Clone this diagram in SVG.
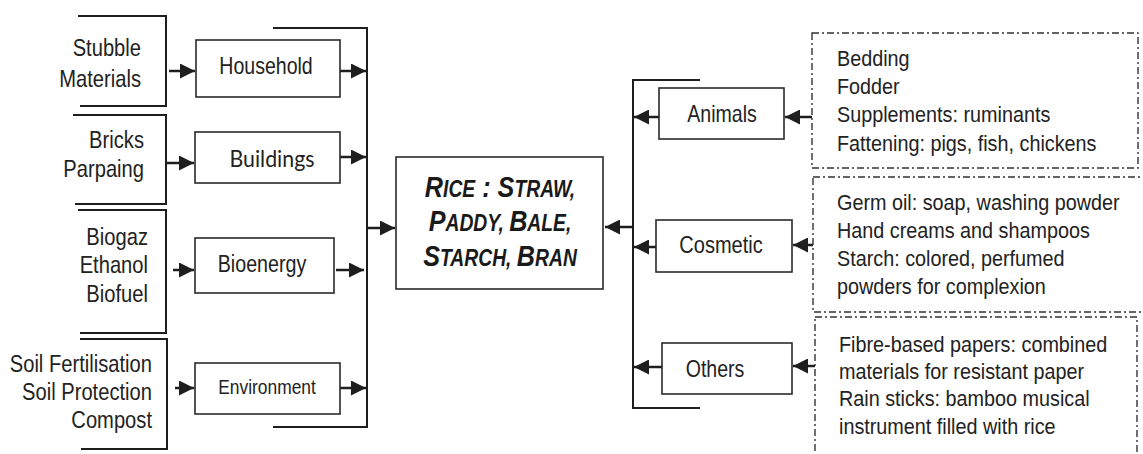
<svg xmlns="http://www.w3.org/2000/svg" width="1143" height="454" viewBox="0 0 1143 454">
<defs>
<marker id="ah" markerUnits="userSpaceOnUse" markerWidth="16" markerHeight="15" refX="15" refY="7.5" orient="auto">
<path d="M0,0 L15,7.5 L0,15 z" fill="#1e1e1e"/>
</marker>
<style>
.ln{stroke:#1e1e1e;stroke-width:2;fill:none}
.ar{stroke:#1e1e1e;stroke-width:2.5;fill:none;marker-end:url(#ah)}
.bx{stroke:#2a2a2a;stroke-width:1.6;fill:#fff}
.db{stroke:#333;stroke-width:1.4;fill:none;stroke-dasharray:7 3 2 3}
.t{font-family:"Liberation Sans",Arial,sans-serif;fill:#222}
.nl{font-size:24px;text-anchor:end}
.nb{font-size:23px;text-anchor:middle}
.rt{font-size:22px}
.ct{font-family:"Liberation Sans",Arial,sans-serif;font-weight:bold;font-style:italic;fill:#1a1a1a;text-anchor:middle}
.bg{font-size:30px}
.sm{font-size:23px}
</style>
</defs>

<g id="connectors">
<path class="ln" d="M78,16 H166 V106 H80"/>
<path class="ln" d="M73,115 H166 V204 H75"/>
<path class="ln" d="M78,210 H166 V333 H80"/>
<path class="ln" d="M80,339 H167 V449 H81"/>
<line class="ar" x1="169" y1="71" x2="195" y2="71"/>
<line class="ar" x1="167" y1="163" x2="194" y2="163"/>
<line class="ar" x1="173" y1="270" x2="194" y2="270"/>
<line class="ar" x1="175" y1="388" x2="194" y2="388"/>
<line class="ar" x1="338" y1="71" x2="366" y2="71"/>
<line class="ar" x1="340" y1="157" x2="366" y2="157"/>
<line class="ar" x1="336" y1="270" x2="364" y2="270"/>
<line class="ar" x1="340" y1="388" x2="366" y2="388"/>
<path class="ln" d="M273,28 H367 V427 H273"/>
<line class="ar" x1="367" y1="228" x2="395" y2="228"/>
<path class="ln" d="M700,80 H633 V408 H700"/>
<line class="ar" x1="633" y1="227" x2="605" y2="227"/>
<line class="ar" x1="659" y1="117" x2="634" y2="117"/>
<line class="ar" x1="656" y1="247" x2="634" y2="247"/>
<line class="ar" x1="662" y1="367" x2="634" y2="367"/>
<line class="ar" x1="812" y1="117" x2="785" y2="117"/>
<line class="ar" x1="813" y1="245" x2="793" y2="245"/>
<line class="ar" x1="815" y1="366" x2="793" y2="366"/>
</g>

<g id="src-stubble">
<text class="t nl" transform="translate(141,56) scale(0.84,1)">Stubble</text>
<text class="t nl" transform="translate(141,87) scale(0.84,1)">Materials</text>
</g>
<g id="src-bricks">
<text class="t nl" transform="translate(144,148) scale(0.84,1)">Bricks</text>
<text class="t nl" transform="translate(144,177) scale(0.84,1)">Parpaing</text>
</g>
<g id="src-bio">
<text class="t nl" transform="translate(148,245) scale(0.84,1)">Biogaz</text>
<text class="t nl" transform="translate(148,273) scale(0.84,1)">Ethanol</text>
<text class="t nl" transform="translate(148,302) scale(0.84,1)">Biofuel</text>
</g>
<g id="src-soil">
<text class="t nl" transform="translate(152,372) scale(0.84,1)">Soil Fertilisation</text>
<text class="t nl" transform="translate(152,400) scale(0.84,1)">Soil Protection</text>
<text class="t nl" transform="translate(152,428) scale(0.84,1)">Compost</text>
</g>

<g id="household">
<rect class="bx" x="196" y="40" width="144" height="57"/>
<text class="t nb" transform="translate(266,74) scale(0.85,1)">Household</text>
</g>
<g id="buildings">
<rect class="bx" x="195" y="132" width="145" height="51"/>
<text transform="translate(272,167) scale(0.95,1)" style="font-family:Lato,'Open Sans',sans-serif;font-size:22.5px;fill:#222;text-anchor:middle">Buildings</text>
</g>
<g id="bioenergy">
<rect class="bx" x="195" y="238" width="139" height="55"/>
<text class="t" transform="translate(262,272) scale(0.82,1)" style="font-size:24px;text-anchor:middle">Bioenergy</text>
</g>
<g id="environment">
<rect class="bx" x="195" y="363" width="145" height="51"/>
<text class="t" transform="translate(267,394) scale(0.87,1)" style="font-size:20px;text-anchor:middle">Environment</text>
</g>

<g id="rice">
<rect class="bx" x="396" y="157" width="207" height="132"/>
<text class="ct" transform="translate(500,197) scale(0.84,1)"><tspan class="bg">R</tspan><tspan class="sm">ICE</tspan><tspan class="bg"> : S</tspan><tspan class="sm">TRAW,</tspan></text>
<text class="ct" transform="translate(500,231) scale(0.84,1)"><tspan class="bg">P</tspan><tspan class="sm">ADDY, </tspan><tspan class="bg">B</tspan><tspan class="sm">ALE,</tspan></text>
<text class="ct" transform="translate(500,266) scale(0.84,1)"><tspan class="bg">S</tspan><tspan class="sm">TARCH, </tspan><tspan class="bg">B</tspan><tspan class="sm">RAN</tspan></text>
</g>

<g id="animals">
<rect class="bx" x="659" y="88" width="125" height="51"/>
<text class="t nb" transform="translate(722,122) scale(0.85,1)">Animals</text>
</g>
<g id="cosmetic">
<rect class="bx" x="656" y="220" width="136" height="52"/>
<text class="t nb" transform="translate(721,253) scale(0.87,1)">Cosmetic</text>
</g>
<g id="others">
<rect class="bx" x="662" y="343" width="130" height="51"/>
<text class="t nb" transform="translate(715,377) scale(0.85,1)">Others</text>
</g>

<g id="animal-uses">
<rect class="db" x="812" y="33" width="326" height="135"/>
<text class="t rt" transform="translate(837,66) scale(0.9,1)">Bedding</text>
<text class="t rt" transform="translate(837,94) scale(0.9,1)">Fodder</text>
<text class="t rt" transform="translate(837,122) scale(0.9,1)">Supplements: ruminants</text>
<text class="t rt" transform="translate(837,151) scale(0.9,1)">Fattening: pigs, fish, chickens</text>
</g>
<g id="cosmetic-uses">
<rect class="db" x="813" y="177" width="334" height="135"/>
<text class="t rt" transform="translate(837,210) scale(0.9,1)">Germ oil: soap, washing powder</text>
<text class="t rt" transform="translate(837,238) scale(0.9,1)">Hand creams and shampoos</text>
<text class="t rt" transform="translate(837,266) scale(0.9,1)">Starch: colored, perfumed</text>
<text class="t rt" transform="translate(837,294) scale(0.9,1)">powders for complexion</text>
</g>
<g id="other-uses">
<rect class="db" x="815" y="317" width="322" height="150"/>
<text class="t rt" transform="translate(839,352) scale(0.9,1)">Fibre-based papers: combined</text>
<text class="t rt" transform="translate(839,379) scale(0.9,1)">materials for resistant paper</text>
<text class="t rt" transform="translate(839,406) scale(0.9,1)">Rain sticks: bamboo musical</text>
<text class="t rt" transform="translate(839,434) scale(0.9,1)">instrument filled with rice</text>
</g>
</svg>
